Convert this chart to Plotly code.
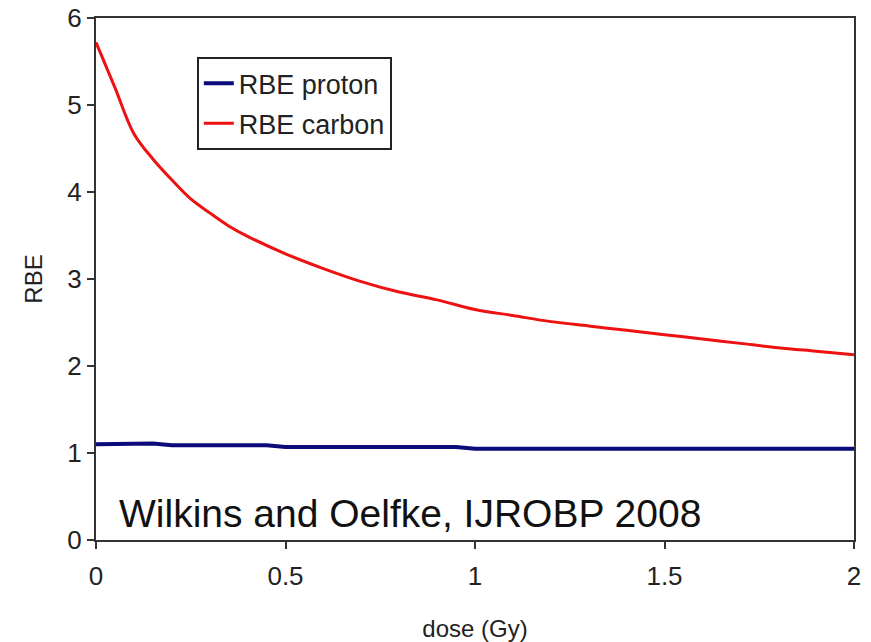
import plotly.graph_objects as go

# dose grid (Gy) and RBE values
dose_carbon = [0.0, 0.05, 0.1, 0.15, 0.2, 0.25, 0.3, 0.35, 0.4, 0.5, 0.6, 0.7, 0.8,
               0.9, 1.0, 1.1, 1.2, 1.3, 1.4, 1.5, 1.6, 1.7, 1.8, 1.9, 2.0]
rbe_carbon = [5.72, 5.20, 4.67, 4.38, 4.14, 3.92, 3.76, 3.61, 3.49, 3.29, 3.12, 2.97, 2.85,
              2.76, 2.65, 2.58, 2.51, 2.46, 2.41, 2.36, 2.31, 2.26, 2.21, 2.17, 2.13]

dose_proton = [0.0, 0.1, 0.15, 0.2, 0.45, 0.5, 0.95, 1.0, 1.5, 2.0]
rbe_proton = [1.10, 1.10, 1.11, 1.09, 1.09, 1.07, 1.07, 1.05, 1.05, 1.05]

x_ticks = [0, 0.5, 1, 1.5, 2]
x_tick_text = ["0", "0.5", "1", "1.5", "2"]
y_ticks = [0, 1, 2, 3, 4, 5, 6]

FONT = "Liberation Sans, Arial, sans-serif"
TEXT = "#222222"

fig = go.Figure()
fig.add_trace(go.Scatter(x=dose_proton, y=rbe_proton, mode="lines", name="RBE proton",
                         legendgroup="p", line=dict(color="#0b0b7a", width=4)))
fig.add_trace(go.Scatter(x=dose_carbon, y=rbe_carbon, mode="lines", name="RBE carbon",
                         legendgroup="c", line=dict(color="#ee1111", width=3, shape="spline")))

fig.add_annotation(text="Wilkins and Oelfke, IJROBP 2008", x=0.055, y=0.03,
                   xref="x", yref="y", xanchor="left", yanchor="bottom", showarrow=False,
                   font=dict(family=FONT, size=39, color="#111111"))

axis_common = dict(showgrid=False, zeroline=False, showline=True, mirror=True,
                   automargin=False, ticklabeloverflow="allow",
                   linecolor="#333333", linewidth=2, ticks="outside", ticklen=7,
                   tickwidth=2, tickcolor="#333333",
                   tickfont=dict(family=FONT, size=26, color=TEXT))

fig.update_xaxes(range=[0, 2], tickvals=x_ticks, ticktext=x_tick_text,
                 ticklabelstandoff=5,
                 title=dict(text="dose (Gy)", font=dict(family=FONT, size=24, color=TEXT),
                            standoff=30),
                 **axis_common)
fig.update_yaxes(range=[0, 6], tickvals=y_ticks,
                 title=dict(text="RBE", font=dict(family=FONT, size=24, color=TEXT),
                            standoff=18),
                 **axis_common)

fig.update_layout(
    width=871, height=642,
    margin=dict(l=96, r=17, t=18, b=102),
    paper_bgcolor="white", plot_bgcolor="white",
    legend=dict(x=0.133, y=0.925, xanchor="left", yanchor="top",
                bgcolor="white", bordercolor="#222222", borderwidth=2,
                font=dict(family=FONT, size=27, color=TEXT),
                traceorder="grouped", tracegroupgap=2, itemwidth=30),
    showlegend=True,
)

fig.write_html("out.html")
